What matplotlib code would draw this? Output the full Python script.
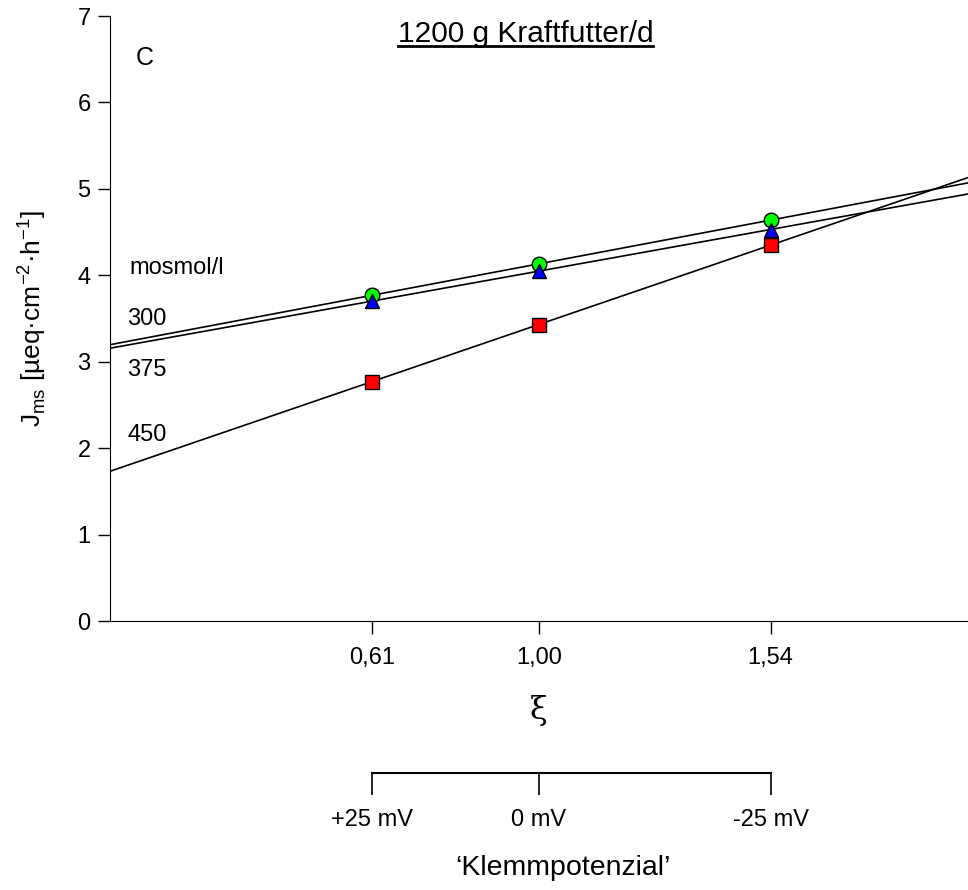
import numpy as np
import matplotlib.pyplot as plt

plt.rcParams['font.family'] = ['Liberation Sans', 'DejaVu Sans']

# xi values and J_ms per osmolarity
xi = [0.61, 1.00, 1.54]
j300 = [3.77, 4.13, 4.64]
j375 = [3.70, 4.05, 4.53]
j450 = [2.77, 3.43, 4.35]
xi_labels = ['0,61', '1,00', '1,54']
mv_labels = ['+25 mV', '0 mV', '-25 mV']
osm_labels = ['300', '375', '450']

fig = plt.figure(figsize=(9.68, 8.9), dpi=100)
ax = fig.add_axes([0.1136, 0.3022, 0.8864, 0.6798])

xs = np.array([0, 2.0])
series = [(j300, 'o', '#00ff00', 10.5), (j375, '^', '#0000ff', 10.5), (j450, 's', '#ff0000', 9.5)]
for y, mk, col, ms in series:
    m, b = np.polyfit(xi, y, 1)
    ax.plot(xs, m * xs + b, color='black', lw=1.2, zorder=2)
for y, mk, col, ms in series:
    ax.plot(xi, y, mk, color=col, mec='black', mew=1.0, ms=ms, zorder=3, clip_on=False)

ax.set_xlim(0, 2.0)
ax.set_ylim(0, 7)
ax.set_xticks(xi)
ax.set_xticklabels(xi_labels)
ax.set_yticks(range(8))
ax.spines['top'].set_visible(False)
ax.spines['right'].set_visible(False)
ax.tick_params(direction='out', length=9, width=1, labelsize=17)
ax.tick_params(axis='x', pad=10)
ax.tick_params(axis='y', pad=5)

ax.set_ylabel(r'J$_{\mathregular{ms}}$ [µeq·cm$^{\mathregular{-2}}$·h$^{\mathregular{-1}}$]', fontsize=19, labelpad=21)
ax.text(0.5, -0.148, 'ξ', transform=ax.transAxes, ha='center', va='center', fontsize=23,
        family='DejaVu Serif')

ax.text(0.08, 6.51, 'C', fontsize=18, ha='center', va='center')
ax.text(0.045, 4.08, 'mosmol/l', fontsize=17, va='center')
for lab, yy in zip(osm_labels, [3.5, 2.9, 2.15]):
    ax.text(0.04, yy, lab, fontsize=17, va='center')

t = fig.text(0.543, 0.962, '1200 g Kraftfutter/d', ha='center', va='center', fontsize=21.5)
# underline
fig.canvas.draw()
bb = t.get_window_extent().transformed(fig.transFigure.inverted())
fig.add_artist(plt.Line2D([bb.x0, bb.x1], [bb.y0 + 0.002, bb.y0 + 0.002], color='black', lw=2))

# secondary potential scale
ax2 = fig.add_axes([0.1136, 0.132, 0.8864, 0.001])
ax2.set_xlim(0, 2.0)
for s in ['top', 'right', 'left']:
    ax2.spines[s].set_visible(False)
ax2.spines['bottom'].set_bounds(xi[0], xi[-1])
ax2.spines['bottom'].set_position(('data', 0))
ax2.set_yticks([])
ax2.set_xticks(xi)
ax2.set_xticklabels(mv_labels)
ax2.tick_params(axis='x', direction='out', length=16, width=1.2, labelsize=17, pad=10)
ax2.spines['bottom'].set_linewidth(1.5)
fig.text(0.582, 0.025, '\u2018Klemmpotenzial\u2019', ha='center', va='center', fontsize=20.5)

fig.savefig('out.png', dpi=100)
